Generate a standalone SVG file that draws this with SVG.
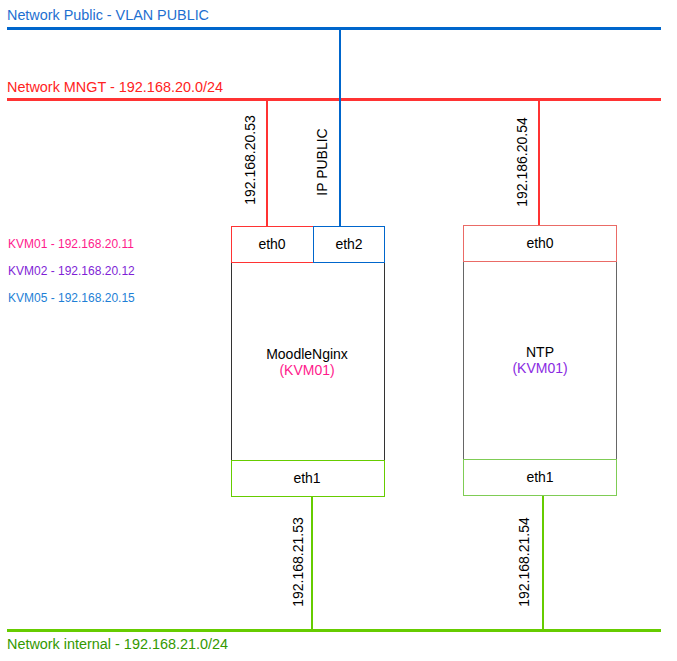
<svg xmlns="http://www.w3.org/2000/svg" width="677" height="661" viewBox="0 0 677 661">
<style>
text{font-family:"Liberation Sans",Arial,sans-serif;font-size:14px}
.c{text-anchor:middle}
.lbl{font-size:12px}
</style>
<rect width="677" height="661" fill="#ffffff"/>
<g id="networks">
<line x1="7" y1="28.5" x2="661" y2="28.5" stroke="#0066CC" stroke-width="3"/>
<text x="7" y="20" fill="#1E6FD0" textLength="202" lengthAdjust="spacingAndGlyphs">Network Public - VLAN PUBLIC</text>
<line x1="7" y1="99.5" x2="661" y2="99.5" stroke="#FF3333" stroke-width="3"/>
<text x="7" y="92" fill="#FF2222" textLength="216" lengthAdjust="spacingAndGlyphs">Network MNGT - 192.168.20.0/24</text>
<line x1="7" y1="630.5" x2="661" y2="630.5" stroke="#66CC00" stroke-width="3"/>
<text x="7" y="649" fill="#339900" textLength="221" lengthAdjust="spacingAndGlyphs">Network internal - 192.168.21.0/24</text>
</g>
<g id="legend">
<text x="8" y="248" class="lbl" fill="#FF1A8C">KVM01 - 192.168.20.11</text>
<text x="8" y="275" class="lbl" fill="#7F1FD6">KVM02 - 192.168.20.12</text>
<text x="8" y="302" class="lbl" fill="#1E7FD6">KVM05 - 192.168.20.15</text>
</g>
<g id="connectors" fill="none" stroke-width="2">
<line x1="267" y1="100" x2="267" y2="226" stroke="#FF3333"/>
<line x1="340" y1="29" x2="340" y2="226" stroke="#0066CC"/>
<line x1="539" y1="100" x2="539" y2="225" stroke="#FF3333"/>
<line x1="312" y1="496" x2="312" y2="630" stroke="#66CC00"/>
<line x1="543" y1="495" x2="543" y2="630" stroke="#66CC00"/>
</g>
<g id="connector-labels">
<text class="c" transform="translate(255,160) rotate(-90)">192.168.20.53</text>
<text class="c" transform="translate(327,162) rotate(-90)">IP PUBLIC</text>
<text class="c" transform="translate(527,162) rotate(-90)">192.186.20.54</text>
<text class="c" transform="translate(303,562) rotate(-90)">192.168.21.53</text>
<text class="c" transform="translate(529,562) rotate(-90)">192.168.21.54</text>
</g>
<g id="moodlenginx">
<rect x="231.5" y="226.5" width="153" height="270" fill="#fff" stroke="#333333"/>
<rect x="231.5" y="226.5" width="82" height="36" fill="#fff" stroke="#FF3333"/>
<rect x="313.5" y="226.5" width="71" height="36" fill="#fff" stroke="#0066CC"/>
<rect x="231.5" y="460.5" width="153" height="36" fill="#fff" stroke="#66CC00"/>
<text class="c" x="272" y="249">eth0</text>
<text class="c" x="349" y="249">eth2</text>
<text class="c" x="307" y="359">MoodleNginx</text>
<text class="c" x="307" y="375" fill="#FF1A8C">(KVM01)</text>
<text class="c" x="307" y="483">eth1</text>
</g>
<g id="ntp">
<rect x="463.5" y="225.5" width="153" height="269" fill="#fff" stroke="#666666"/>
<rect x="463.5" y="225.5" width="153" height="36" fill="#fff" stroke="#EA6B66"/>
<rect x="463.5" y="459.5" width="153" height="36" fill="#fff" stroke="#7FCC55"/>
<text class="c" x="540" y="248">eth0</text>
<text class="c" x="540" y="357">NTP</text>
<text class="c" x="540" y="373" fill="#8A2BE2">(KVM01)</text>
<text class="c" x="540" y="482">eth1</text>
</g>
</svg>
